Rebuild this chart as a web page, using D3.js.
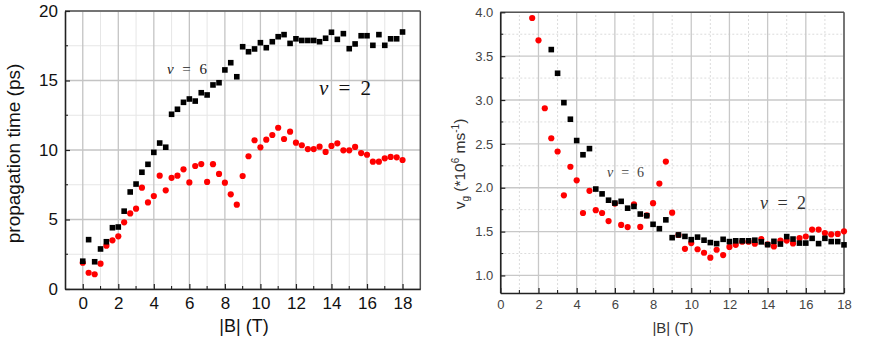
<!DOCTYPE html>
<html><head><meta charset="utf-8">
<script src="https://cdn.jsdelivr.net/npm/d3@7"></script>
<style>body{margin:0;background:#fff}svg{display:block}</style>
</head><body><svg id="c" width="872" height="341"></svg>
<script>
// Magnetic field |B| (T)
const fieldB = [0,0.33,0.67,1,1.33,1.67,2,2.33,2.67,3,3.33,3.67,4,4.33,4.67,5,5.33,5.67,6,6.33,6.67,7,7.33,7.67,8,8.33,8.67,9,9.33,9.67,10,10.33,10.67,11,11.33,11.67,12,12.33,12.67,13,13.33,13.67,14,14.33,14.67,15,15.33,15.67,16,16.33,16.67,17,17.33,17.67,18];
// Left: propagation time (ps)
const timeNu6 = [2.0,3.55,1.96,2.88,3.4,4.41,4.46,5.6,6.98,7.55,8.4,8.97,9.83,10.5,10.2,12.57,12.93,13.43,13.67,13.52,14.12,13.96,14.68,14.84,15.76,16.28,15.27,17.43,17.07,17.27,17.72,17.36,17.79,18.15,18.3,17.67,18.0,17.88,17.88,17.88,17.79,18.04,18.47,17.96,18.37,17.29,17.63,18.22,18.22,17.53,18.3,17.53,18.0,18.0,18.49];
const timeNu2 = [1.89,1.17,1.06,1.82,3.12,3.5,3.79,4.8,5.44,5.78,7.29,6.23,6.69,8.15,7.1,8.0,8.15,8.61,7.67,8.85,8.99,7.7,8.98,8.28,7.65,6.81,6.07,8.13,9.55,10.7,10.19,10.74,11.08,11.6,10.79,11.32,10.53,10.34,10.07,10.07,10.24,9.86,10.29,10.48,9.98,9.98,10.22,9.78,9.66,9.16,9.16,9.4,9.5,9.47,9.28];
// Right: group velocity (1e6 m/s); null = outside plotted range
const vgNu6 = [null,null,null,null,null,null,null,null,3.575,3.305,2.97,2.781,2.538,2.376,2.446,1.985,1.93,1.858,1.825,1.845,1.767,1.787,1.70,1.681,1.583,1.533,1.634,1.431,1.462,1.445,1.408,1.437,1.402,1.375,1.363,1.412,1.386,1.395,1.395,1.395,1.402,1.383,1.351,1.389,1.358,1.443,1.415,1.369,1.369,1.423,1.363,1.423,1.386,1.386,1.349];
const vgNu2 = [null,null,null,null,null,3.935,3.68,2.906,2.564,2.413,1.914,2.239,2.085,1.712,1.965,1.744,1.712,1.62,1.819,1.576,1.552,1.812,1.553,1.685,1.824,2.048,2.298,1.716,1.461,1.304,1.369,1.299,1.259,1.203,1.293,1.232,1.325,1.349,1.385,1.385,1.362,1.415,1.356,1.331,1.398,1.398,1.365,1.426,1.444,1.523,1.523,1.484,1.468,1.473,1.503];

const leftXTicks = [0,2,4,6,8,10,12,14,16,18];
const leftXMinor = [1,3,5,7,9,11,13,15,17];
const leftYTicks = [0,5,10,15,20];
const leftYMinor = [2.5,7.5,12.5,17.5];
const rightXTicks = [0,2,4,6,8,10,12,14,16,18];
const rightXMinor = [1,3,5,7,9,11,13,15,17];
const rightYTicks = [1.0,1.5,2.0,2.5,3.0,3.5,4.0];
const rightYMinor = [1.25,1.75,2.25,2.75,3.25,3.75];

const svg = d3.select("#c");
const SANS = "Liberation Sans, Arial, sans-serif";
const SERIF = "Liberation Serif, DejaVu Serif, serif";

function panel(o){
  const g = svg.append("g");
  const x = o.x, y = o.y;
  const [x0,x1] = x.range(), [y0,y1] = y.range();
  g.selectAll(null).data(o.xMinor).join("line")
    .attr("x1",d=>x(d)).attr("x2",d=>x(d)).attr("y1",y0).attr("y2",y1)
    .attr("stroke",o.minorColor).attr("stroke-width",1).attr("stroke-dasharray",o.minorDash);
  g.selectAll(null).data(o.yMinor).join("line")
    .attr("y1",d=>y(d)).attr("y2",d=>y(d)).attr("x1",x0).attr("x2",x1)
    .attr("stroke",o.minorColor).attr("stroke-width",1).attr("stroke-dasharray",o.minorDash);
  g.selectAll(null).data(o.xTicks).join("line")
    .attr("x1",d=>x(d)).attr("x2",d=>x(d)).attr("y1",y0).attr("y2",y1)
    .attr("stroke",o.majorColor).attr("stroke-width",1.3);
  g.selectAll(null).data(o.yTicks).join("line")
    .attr("y1",d=>y(d)).attr("y2",d=>y(d)).attr("x1",x0).attr("x2",x1)
    .attr("stroke",o.majorColor).attr("stroke-width",1.3);
  g.append("line").attr("x1",x0).attr("x2",x1).attr("y1",y1).attr("y2",y1).attr("stroke","#555").attr("stroke-width",1.5);
  g.append("line").attr("x1",x1).attr("x2",x1).attr("y1",y0).attr("y2",y1).attr("stroke","#555").attr("stroke-width",1.5);
  const xa = g.append("g").attr("transform",`translate(0,${y0})`)
    .call(d3.axisBottom(x).tickValues(o.xTicks).tickSizeInner(-5).tickSizeOuter(0).tickPadding(o.xPad).tickFormat(d3.format("d")));
  const ya = g.append("g").attr("transform",`translate(${x0},0)`)
    .call(d3.axisLeft(y).tickValues(o.yTicks).tickSizeInner(-5).tickSizeOuter(0).tickPadding(o.yPad).tickFormat(o.yFmt));
  [xa,ya].forEach(a=>{
    a.select(".domain").attr("stroke","#222").attr("stroke-width",1.6);
    a.selectAll(".tick line").attr("stroke","#222").attr("stroke-width",1.2);
    a.selectAll("text").attr("font-family",SANS).attr("font-size",o.tickFont).attr("fill",o.tickColor);
  });
  g.selectAll(null).data(o.xMinor).join("line")
    .attr("x1",d=>x(d)).attr("x2",d=>x(d)).attr("y1",y0).attr("y2",y0-3).attr("stroke","#222").attr("stroke-width",1.1);
  g.selectAll(null).data(o.yMinor).join("line")
    .attr("y1",d=>y(d)).attr("y2",d=>y(d)).attr("x1",x0).attr("x2",x0+3).attr("stroke","#222").attr("stroke-width",1.1);
  const red = o.red.map((v,i)=>({b:fieldB[i],v})).filter(d=>d.v!=null);
  const blk = o.black.map((v,i)=>({b:fieldB[i],v})).filter(d=>d.v!=null);
  g.selectAll(null).data(red).join("circle")
    .attr("cx",d=>x(d.b)).attr("cy",d=>y(d.v)).attr("r",3.1).attr("fill","#ff0000");
  g.selectAll(null).data(blk).join("rect")
    .attr("x",d=>x(d.b)-2.8).attr("y",d=>y(d.v)-2.8).attr("width",5.6).attr("height",5.6).attr("fill","#000");
  return g;
}

// LEFT PANEL
const xL = d3.scaleLinear().domain([-1,19]).range([65,420.3]);
const yL = d3.scaleLinear().domain([0,20]).range([289,11]);
panel({x:xL,y:yL,xTicks:leftXTicks,xMinor:leftXMinor,yTicks:leftYTicks,yMinor:leftYMinor,
  majorColor:"#c4c4c4",minorColor:"#e6e6e6",minorDash:null,tickFont:17,tickColor:"#111",xPad:8,yPad:7,
  yFmt:d3.format("d"),red:timeNu2,black:timeNu6});
svg.append("text").attr("x",244).attr("y",332).attr("text-anchor","middle")
  .attr("font-family",SANS).attr("font-size",18).attr("fill","#111").text("|B| (T)");
svg.append("text").attr("transform","translate(20,153.5) rotate(-90)").attr("text-anchor","middle")
  .attr("font-family",SANS).attr("font-size",19).attr("fill","#111").text("propagation time (ps)");

function nuLabel(xp, yp, size, len, num, color){
  const t = svg.append("text").attr("x",xp).attr("y",yp)
    .attr("font-family",SERIF).attr("font-size",size).attr("fill",color)
    .attr("textLength",len).attr("lengthAdjust","spacing");
  t.append("tspan").attr("font-style","italic").text("ν");
  t.append("tspan").text(" = " + num);
}
nuLabel(167,74,15,40,"6","#222");
nuLabel(319,95,21,52,"2","#111");

// RIGHT PANEL
const xR = d3.scaleLinear().domain([0,18]).range([500.3,844]);
const yR = d3.scaleLinear().domain([0.8,4.0]).range([293,12.3]);
panel({x:xR,y:yR,xTicks:rightXTicks,xMinor:rightXMinor,yTicks:rightYTicks,yMinor:rightYMinor,
  majorColor:"#c8c8c8",minorColor:"#dcdcdc",minorDash:"2,2",tickFont:13,tickColor:"#444",xPad:7,yPad:7,
  yFmt:d3.format(".1f"),red:vgNu2,black:vgNu6});
svg.append("text").attr("x",673).attr("y",333).attr("text-anchor","middle")
  .attr("font-family",SANS).attr("font-size",15).attr("fill","#333").text("|B| (T)");
const yt = svg.append("text").attr("transform","translate(465,164) rotate(-90)").attr("text-anchor","middle")
  .attr("font-family",SANS).attr("font-size",15.5).attr("fill","#333");
yt.append("tspan").text("v");
yt.append("tspan").attr("font-size",10).attr("dy",4).text("g");
yt.append("tspan").attr("dy",-4).text(" (*10");
yt.append("tspan").attr("font-size",10).attr("dy",-6).text("6");
yt.append("tspan").attr("dy",6).text(" ms");
yt.append("tspan").attr("font-size",10).attr("dy",-6).text("-1");
yt.append("tspan").attr("dy",6).text(")");
nuLabel(607,177,14,37,"6","#444");
nuLabel(760,209,18,46,"2","#333");
</script></body></html>
